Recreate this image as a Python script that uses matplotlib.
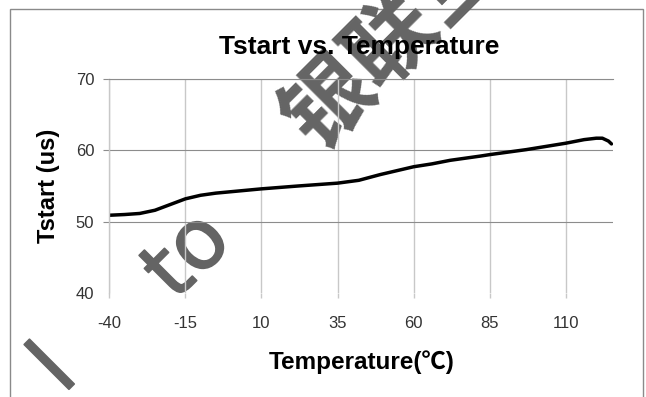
import matplotlib
matplotlib.use("Agg")
import matplotlib.pyplot as plt
import matplotlib.patheffects as pe
from matplotlib.patches import Rectangle

plt.rcParams['font.family'] = ['Liberation Sans', 'Noto Sans CJK SC', 'DejaVu Sans']
plt.rcParams['axes.unicode_minus'] = False

# values
temp = [-40, -35, -30, -25, -20, -15, -10, -5, 0, 10, 22, 35, 42, 49, 55, 60,
        66, 72, 82, 85, 97, 110, 116, 120, 122, 124, 125]
tstart = [50.9, 51.0, 51.15, 51.6, 52.4, 53.2, 53.7, 54.0, 54.2, 54.6, 55.0, 55.4,
          55.8, 56.6, 57.2, 57.7, 58.1, 58.6, 59.2, 59.4, 60.1, 61.0, 61.5, 61.7,
          61.7, 61.3, 60.9]
x_ticks = [-40, -15, 10, 35, 60, 85, 110]
y_ticks = [40, 50, 60, 70]

W, H = 646, 397
fig = plt.figure(figsize=(W / 100, H / 100), dpi=100)
fig.patch.set_facecolor('white')

# outer chart border
fig.patches.append(Rectangle((9.5 / W, -0.1), (642.5 - 9.5) / W, 1.1 - 9.5 / H,
                             transform=fig.transFigure, fill=False,
                             edgecolor='#8a8a8a', lw=1.0, zorder=-2))

# watermark (partly off the picture, as in the original)
wm_col = '#646464'
wm = dict(rotation=45, rotation_mode='anchor', ha='center', va='center',
          color=wm_col, zorder=-1)
thick = [pe.withStroke(linewidth=1.2, foreground=wm_col)]
fig.text(2 / W, 1 - 422 / H, 'a', family='DejaVu Sans', fontsize=60,
         path_effects=thick, **wm)
fig.text(55 / W, 1 - 370 / H, 'l', family='DejaVu Sans', fontsize=60,
         path_effects=thick, **wm)
fig.text(188 / W, 1 - 256 / H, 'to', family='DejaVu Sans', fontsize=60,
         path_effects=thick, **wm)
fig.text(393 / W, 1 - 41 / H, '银联宝', family=['Noto Sans CJK SC', 'DejaVu Sans'],
         fontsize=64, fontweight='bold', **wm)

ax = fig.add_axes([109.3 / W, 1 - 293 / H, (612.7 - 109.3) / W, (293 - 79) / H])
ax.set_facecolor('none')

ax.plot(temp, tstart, color='black', lw=2.5, solid_capstyle='round')

ax.set_xlim(-40, 125.4)
ax.set_ylim(40, 70)
ax.set_xticks(x_ticks)
ax.set_yticks(y_ticks)

ax.xaxis.grid(True, color='#c8c8c8', lw=1.0)
ax.yaxis.grid(True, color='#8c8c8c', lw=0.8)
ax.set_axisbelow(True)

for s in ['right', 'bottom']:
    ax.spines[s].set_visible(False)
ax.spines['left'].set_color('#c8c8c8')
ax.spines['left'].set_linewidth(1.0)
ax.spines['top'].set_color('#8c8c8c')
ax.spines['top'].set_linewidth(0.8)

ax.tick_params(axis='x', direction='out', length=3.6, width=1.0, color='#c8c8c8',
               pad=13, labelsize=12, labelcolor='#333333')
ax.tick_params(axis='y', direction='out', length=4.3, width=0.8, color='#8c8c8c',
               pad=6.5, labelsize=12, labelcolor='#333333')
t0 = ax.yaxis.get_major_ticks()[0]
t0.tick1line.set_visible(False)
t0.gridline.set_visible(False)

ax.set_title('Tstart vs. Temperature', x=0.496, y=1.151, va='center', pad=0,
             fontsize=19, fontweight='bold')
ax.set_xlabel('Temperature(℃)', fontsize=17.5, fontweight='bold', va='center')
ax.xaxis.set_label_coords(0.502, -0.321)
ax.set_ylabel('Tstart (us)', fontsize=17, fontweight='bold', va='center')
ax.yaxis.set_label_coords(-0.12, 0.5)

fig.savefig('out.png', dpi=100)
